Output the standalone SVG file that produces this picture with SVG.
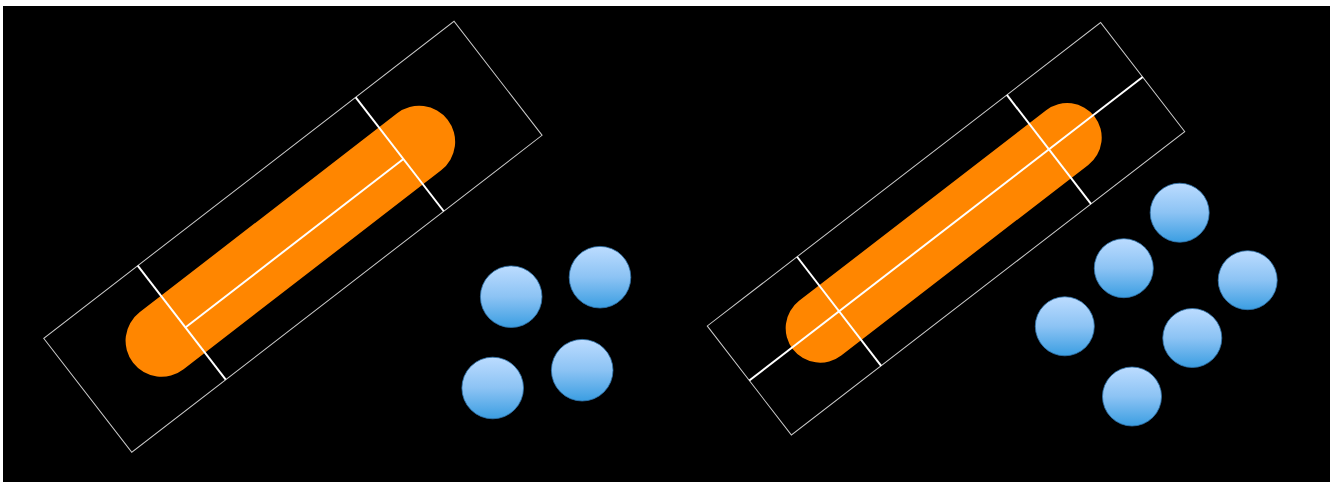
<svg xmlns="http://www.w3.org/2000/svg" width="1334" height="482" viewBox="0 0 1334 482">
<defs>
<linearGradient id="blue" x1="0" y1="0" x2="0" y2="1">
<stop offset="0" stop-color="#bcdcff"/>
<stop offset="0.5" stop-color="#8cc3f4"/>
<stop offset="1" stop-color="#3b9ee2"/>
</linearGradient>
<style>
.box{fill:none;stroke:#c8c8c8;stroke-width:1}
.cap{fill:#ff8600}
.wl{stroke:#ffffff;stroke-width:2;fill:none}
.ball{fill:url(#blue);stroke:#2f74ad;stroke-width:1;stroke-opacity:0.8}
</style>
</defs>
<rect x="0" y="0" width="1334" height="482" fill="#ffffff"/>
<rect x="3" y="6" width="1327" height="476" fill="#000000"/>

<g id="left-capsule" transform="translate(292.9,236.8) rotate(-37.69)">
<rect class="box" x="-259.25" y="-72" width="518.5" height="144"/>
<rect class="cap" x="-203.5" y="-34" width="397.5" height="72" rx="36" ry="36"/>
<line class="wl" x1="-140.5" y1="6" x2="135" y2="6"/>
<line class="wl" x1="-140.5" y1="-72" x2="-140.5" y2="72"/>
<line class="wl" x1="135" y1="-72" x2="135" y2="72"/>
</g>

<g id="left-balls">
<circle class="ball" cx="511.2" cy="296.7" r="30.8"/>
<circle class="ball" cx="600" cy="277.2" r="30.8"/>
<circle class="ball" cx="492.7" cy="388" r="30.8"/>
<circle class="ball" cx="582.2" cy="370.2" r="30.8"/>
</g>

<g id="right-capsule" transform="translate(946,228.8) rotate(-37.65)">
<rect class="box" x="-248.4" y="-68.85" width="496.8" height="137.7"/>
<rect class="cap" x="-194.8" y="-32.7" width="381" height="69" rx="34.5" ry="34.5"/>
<line class="wl" x1="-248.4" y1="0" x2="248.4" y2="0"/>
<line class="wl" x1="-135" y1="-68.85" x2="-135" y2="68.85"/>
<line class="wl" x1="130" y1="-68.85" x2="130" y2="68.85"/>
</g>

<g id="right-balls">
<circle class="ball" cx="1179.7" cy="212.7" r="29.5"/>
<circle class="ball" cx="1123.8" cy="268.2" r="29.5"/>
<circle class="ball" cx="1247.7" cy="280.2" r="29.5"/>
<circle class="ball" cx="1064.8" cy="326.3" r="29.5"/>
<circle class="ball" cx="1192.3" cy="338" r="29.5"/>
<circle class="ball" cx="1132" cy="396.5" r="29.5"/>
</g>
</svg>
